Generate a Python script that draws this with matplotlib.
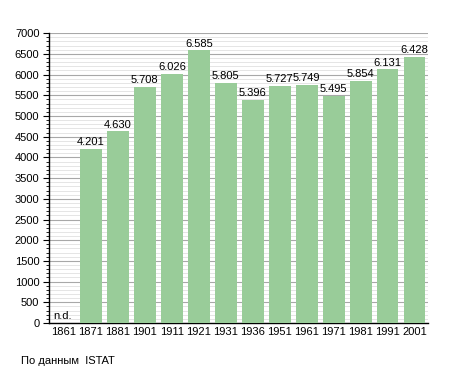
import matplotlib
matplotlib.use('Agg')
import matplotlib.pyplot as plt
from matplotlib.ticker import MultipleLocator

# Dati censimenti
anni = ['1861', '1871', '1881', '1901', '1911', '1921', '1931', '1936',
        '1951', '1961', '1971', '1981', '1991', '2001']
abitanti = [0, 4201, 4630, 5708, 6026, 6585, 5805, 5396,
            5727, 5749, 5495, 5854, 6131, 6428]

plt.rcParams['font.family'] = ['Liberation Sans', 'DejaVu Sans']

fig = plt.figure(figsize=(4.55, 3.73), dpi=100)
ax = fig.add_axes([0.108, 0.134, 0.833, 0.777])

x = range(len(anni))
ax.bar(x, abitanti, width=0.8, color='#99cc99', zorder=3)

for i, v in enumerate(abitanti):
    if v == 0:
        ax.text(i - 0.38, 40, 'n.d.', fontsize=8, ha='left', va='bottom', zorder=4)
    else:
        ax.text(i, v + 40, f'{v:,}'.replace(',', '.'), fontsize=8,
                ha='center', va='bottom', zorder=4)

ax.set_xlim(-0.55, len(anni) - 0.5)
ax.set_ylim(0, 7000)
ax.set_xticks(list(x))
ax.set_xticklabels(anni, fontsize=8)
ax.yaxis.set_major_locator(MultipleLocator(500))
ax.yaxis.set_minor_locator(MultipleLocator(100))
ax.tick_params(axis='y', labelsize=8, length=4, width=0.8, pad=3)
ax.tick_params(axis='y', which='minor', length=2, width=0.6)
ax.tick_params(axis='x', length=0, pad=3)

ax.grid(True, axis='y', which='major', color='#a8a8a8', linewidth=0.8, zorder=1)
ax.grid(True, axis='y', which='minor', color='#e0e0e0', linewidth=0.6, zorder=0)

ax.spines['top'].set_visible(False)
ax.spines['right'].set_visible(False)
ax.spines['left'].set_linewidth(1.0)
ax.spines['bottom'].set_linewidth(1.0)

fig.text(0.046, 0.025, 'По данным  ISTAT', fontsize=8)

plt.savefig('out.png', dpi=100)
plt.close()
